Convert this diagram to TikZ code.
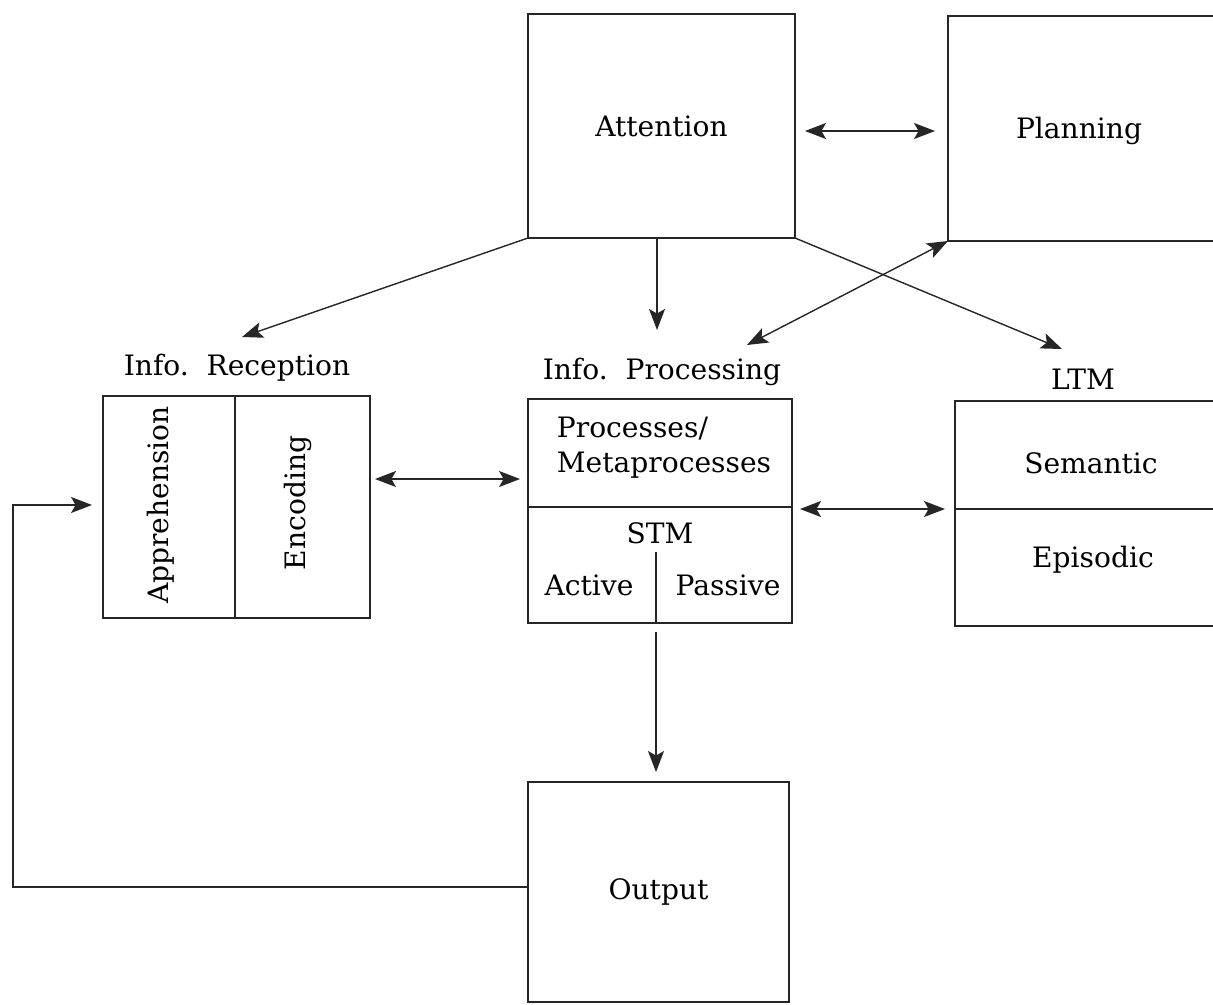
\documentclass[tikz,border=0pt]{standalone}
\usepackage{fontspec}
\setmainfont{DejaVu Serif}
\usetikzlibrary{arrows.meta}
\tikzstyle{caja}=[draw=black!85, line width=0.8pt, inner sep=0pt, outer sep=0pt]
\tikzstyle{flecha}=[-{Stealth[length=4.2mm,width=3.2mm,inset=0.9mm]}, draw=black!85, line width=0.8pt]
\tikzstyle{doble}=[{Stealth[length=4.2mm,width=3.2mm,inset=0.9mm]}-{Stealth[length=4.2mm,width=3.2mm,inset=0.9mm]}, draw=black!85, line width=0.8pt]

\begin{document}
\begin{tikzpicture}[x=0.02cm, y=-0.02cm, font=\fontsize{16}{20}\selectfont]
	\useasboundingbox (0,0) rectangle (1213,1004);
	\node[caja, minimum width=5.34cm, minimum height=4.48cm] (att) at (661.5,126) {Attention};
	\node[caja, minimum width=5.64cm, minimum height=4.5cm] (plan) at (1089,128.5) {};
	\node (planl) at (1079,131) {Planning};
	\node[caja, minimum width=5.34cm, minimum height=4.44cm] (rec) at (236.5,507) {};
	\node (recl) at (237,368) {Info.\ \ Reception};
	\node[rotate=90] (apre) at (161,505) {Apprehension};
	\node[rotate=90] (enc) at (298,503) {Encoding};
	\draw[draw=black!85, line width=0.8pt] (rec.north -| 235,0) -- (rec.south -| 235,0);
	\node[caja, minimum width=5.28cm, minimum height=4.48cm] (proc) at (660,511) {};
	\node (procl) at (662,372) {Info.\ \ Processing};
	\node[align=left] (meta) at (664,448) {Processes/\\Metaprocesses};
	\draw[draw=black!85, line width=0.8pt] (proc.west |- 0,507) -- (proc.east |- 0,507);
	\node (stm) at (660,533) {STM};
	\node (act) at (589,585) {Active};
	\node (pas) at (728,585) {Passive};
	\draw[draw=black!85, line width=0.8pt] (656,552) -- (proc.south -| 656,0);
	\node[caja, minimum width=5.5cm, minimum height=4.5cm] (ltm) at (1092.5,513.5) {};
	\node (ltml) at (1083,379) {LTM};
	\node (sem) at (1091,463) {Semantic};
	\node (epi) at (1093,560) {Episodic};
	\draw[draw=black!85, line width=0.8pt] (ltm.west |- 0,509) -- (ltm.east |- 0,509);
	\node[caja, minimum width=5.22cm, minimum height=4.4cm] (outp) at (658.5,892) {Output};
	\coordinate (recin) at (242,337);
	\coordinate (procin) at (657,330);
	\coordinate (ltmin) at (1062,349);
	\coordinate (planin) at (747,345);
	\coordinate (fb) at (13,887);
	\draw[doble, shorten <=0.2cm, shorten >=0.26cm] (att.east |- 0,131) -- (plan.west |- 0,131);
	\draw[flecha] (att.south west) -- (recin);
	\draw[flecha] (procin |- att.south) -- (procin);
	\draw[flecha] (att.south east) -- (ltmin);
	\draw[doble] (planin) -- (plan.south west);
	\draw[doble, shorten <=0.1cm, shorten >=0.16cm] (rec.east |- 0,479) -- (proc.west |- 0,479);
	\draw[doble, shorten <=0.16cm, shorten >=0.2cm] (proc.east |- 0,509) -- (ltm.west |- 0,509);
	\draw[flecha, shorten <=0.18cm, shorten >=0.2cm] (proc.south -| 656,0) -- (outp.north -| 656,0);
	\draw[flecha, shorten >=0.22cm] (outp.west |- fb) -- (fb) |- (rec.west |- 0,505);
\end{tikzpicture}
\end{document}
